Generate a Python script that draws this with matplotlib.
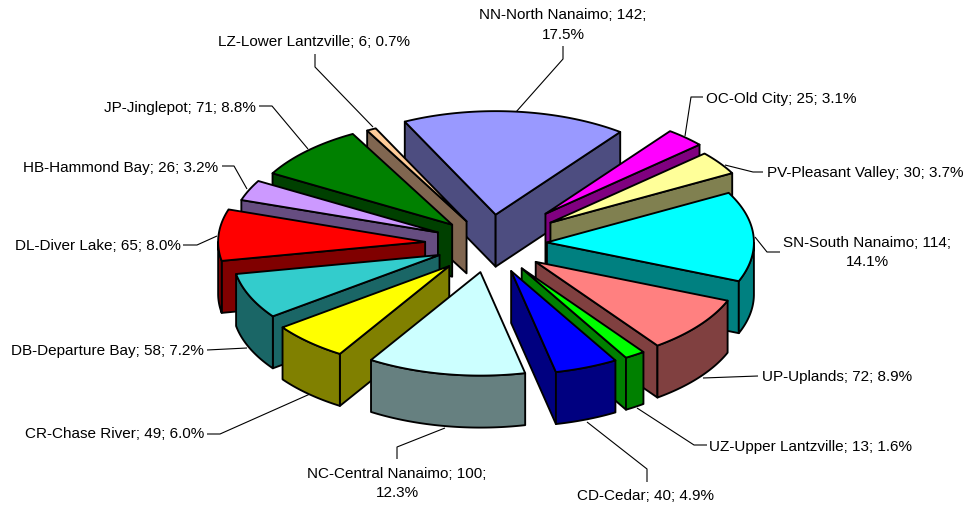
import numpy as np
import matplotlib
matplotlib.use("Agg")
import matplotlib.pyplot as plt
from matplotlib.patches import Polygon

names = ["OC-Old City", "PV-Pleasant Valley", "SN-South Nanaimo", "UP-Uplands",
         "UZ-Upper Lantzville", "CD-Cedar", "NC-Central Nanaimo", "CR-Chase River",
         "DB-Departure Bay", "DL-Diver Lake", "HB-Hammond Bay", "JP-Jinglepot",
         "LZ-Lower Lantzville", "NN-North Nanaimo"]
values = [25, 30, 114, 72, 13, 40, 100, 49, 58, 65, 26, 71, 6, 142]
top_colors = ["#FF00FF", "#FFFF99", "#00FFFF", "#FF8080", "#00FF00", "#0000FF", "#CCFFFF",
              "#FFFF00", "#33CCCC", "#FF0000", "#CC99FF", "#008000", "#FFCC99", "#9999FF"]
side_colors = ["#800080", "#808050", "#008080", "#804040", "#008000", "#000080", "#668080",
               "#808000", "#1A6666", "#800000", "#664D80", "#004000", "#806650", "#4D4D80"]

# layout (pixels)
W, H = 967, 506
CX, CY = 490, 245
R, K, DEPTH = 207, 0.5, 52
START = 37.0
explode = {"OC-Old City": 82, "PV-Pleasant Valley": 74, "SN-South Nanaimo": 57, "UP-Uplands": 58,
           "UZ-Upper Lantzville": 58, "CD-Cedar": 58, "NC-Central Nanaimo": 57, "CR-Chase River": 60,
           "DB-Departure Bay": 55, "DL-Diver Lake": 65, "HB-Hammond Bay": 57, "JP-Jinglepot": 54,
           "LZ-Lower Lantzville": 51, "NN-North Nanaimo": 59}
wrapped = {"NN-North Nanaimo", "SN-South Nanaimo", "NC-Central Nanaimo"}
label_pos = {
    "OC-Old City": (706, 98.5, "left"), "PV-Pleasant Valley": (767, 173, "left"),
    "SN-South Nanaimo": (867, 252.5, "center"), "UP-Uplands": (762, 376.5, "left"),
    "UZ-Upper Lantzville": (709, 447, "left"), "CD-Cedar": (577, 496.5, "left"),
    "NC-Central Nanaimo": (397, 483.5, "center"), "CR-Chase River": (25, 434, "left"),
    "DB-Departure Bay": (11, 351, "left"), "DL-Diver Lake": (15, 246, "left"),
    "HB-Hammond Bay": (23, 167.5, "left"), "JP-Jinglepot": (104, 107.5, "left"),
    "LZ-Lower Lantzville": (218, 41.5, "left"), "NN-North Nanaimo": (563, 25, "center"),
}
leaders = {
    "OC-Old City": [(685, 137), (691, 98), (703, 98)],
    "PV-Pleasant Valley": [(725, 166), (753, 173), (763, 173)],
    "SN-South Nanaimo": [(755, 238), (767, 253), (780, 253)],
    "UP-Uplands": [(703, 379), (758, 377)],
    "UZ-Upper Lantzville": [(637, 409), (694, 446), (707, 446)],
    "CD-Cedar": [(587, 423), (647, 470), (647, 483)],
    "NC-Central Nanaimo": [(445, 429), (397, 448), (397, 460)],
    "CR-Chase River": [(310, 395), (220, 435), (207, 435)],
    "DB-Departure Bay": [(247, 349), (207, 351)],
    "DL-Diver Lake": [(217, 237), (197, 246), (183, 246)],
    "HB-Hammond Bay": [(247, 190), (234, 167), (222, 167)],
    "JP-Jinglepot": [(308, 150), (272, 107), (259, 107)],
    "LZ-Lower Lantzville": [(373, 128), (315, 68), (315, 55)],
    "NN-North Nanaimo": [(516, 113), (563, 60), (563, 47)],
}

plt.rcParams["font.family"] = ["Liberation Sans", "DejaVu Sans"]
fig = plt.figure(figsize=(W / 100, H / 100), dpi=100, facecolor="white")
ax = fig.add_axes([0, 0, 1, 1])
ax.set_xlim(0, W)
ax.set_ylim(H, 0)
ax.axis("off")

total = sum(values)
fracs = np.array(values) / total * 360
starts = START + np.concatenate([[0], np.cumsum(fracs)[:-1]])
ends = starts + fracs
mids = (starts + ends) / 2


def project(theta, r, ax0, ay0):
    t = np.radians(theta)
    return ax0 + r * np.sin(t), ay0 - K * r * np.cos(t)


LW = 1.35
order = np.argsort(-np.cos(np.radians(mids)))
z = 5
for i in order:
    a0, a1 = starts[i], ends[i]
    m = np.radians(mids[i])
    e = explode[names[i]]
    ax0 = CX + e * np.sin(m)
    ay0 = CY - K * e * np.cos(m)
    th = np.linspace(a0, a1, 80)
    xs, ys = project(th, R, ax0, ay0)
    kw = dict(edgecolor="black", linewidth=LW, joinstyle="round", zorder=z)
    # cut faces that look toward the viewer
    for ang, sign in ((a0, -1), (a1, 1)):
        if sign * np.sin(np.radians(ang)) > 0:
            ex, ey = project(ang, R, ax0, ay0)
            ax.add_patch(Polygon([(ax0, ay0), (ex, ey), (ex, ey + DEPTH), (ax0, ay0 + DEPTH)],
                                 facecolor=side_colors[i], **kw))
    # outer rim where it faces the viewer
    mask = np.cos(np.radians(th)) < 0
    if mask.any():
        fx, fy = xs[mask], ys[mask]
        pts = list(zip(fx, fy)) + list(zip(fx[::-1], fy[::-1] + DEPTH))
        ax.add_patch(Polygon(pts, facecolor=side_colors[i], **kw))
    ax.add_patch(Polygon([(ax0, ay0)] + list(zip(xs, ys)), facecolor=top_colors[i], **kw))
    z += 1

for name, v in zip(names, values):
    pct = v / total * 100
    sep = "\n" if name in wrapped else " "
    label = f"{name}; {v};{sep}{pct:.1f}%"
    x, y, ha = label_pos[name]
    ax.text(x, y, label, ha=ha, va="center", fontsize=11, color="black",
            linespacing=1.5, multialignment="center", zorder=40)
    lx, ly = zip(*leaders[name])
    ax.plot(lx, ly, color="black", lw=0.8, zorder=2, solid_capstyle="butt")

fig.savefig("out.png", dpi=100, facecolor="white")
